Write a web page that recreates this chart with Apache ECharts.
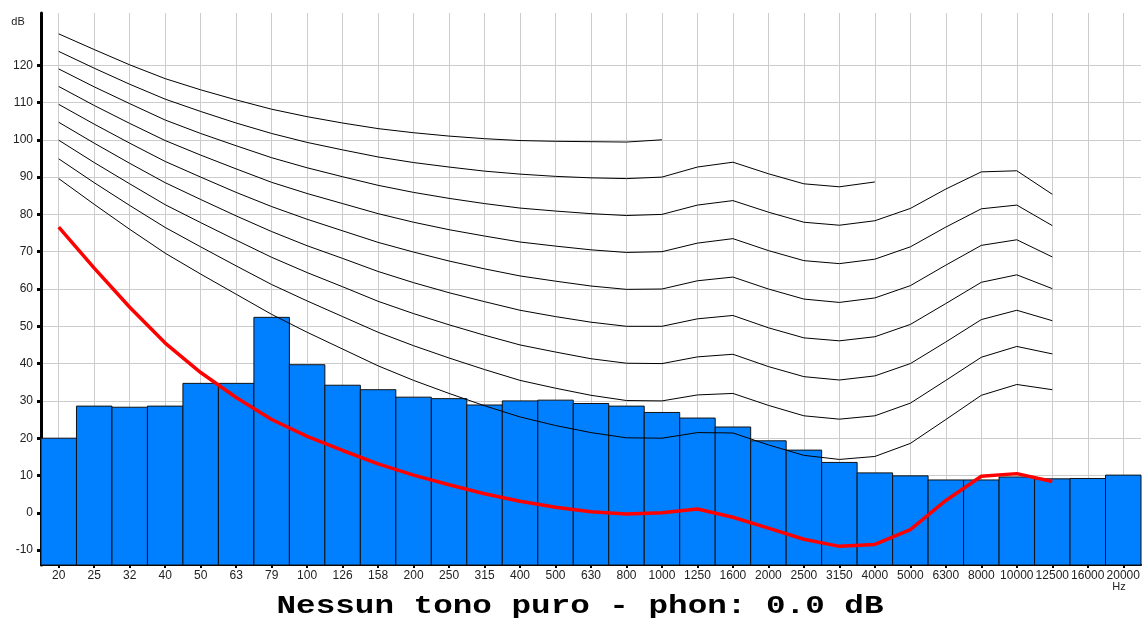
<!DOCTYPE html>
<html>
<head>
<meta charset="utf-8">
<script src="https://cdn.jsdelivr.net/npm/echarts@6/dist/echarts.min.js"></script>
<style>
html,body{margin:0;padding:0;background:#fff;}
#chart{width:1144px;height:619px;}
</style>
</head>
<body>
<div id="chart"></div>
<script>
// Frequency bands (Hz)
const freqLabels = ['20','25','32','40','50','63','79','100','126','158','200','250','315','400','500','630','800','1000','1250','1600','2000','2500','3150','4000','5000','6300','8000','10000','12500','16000','20000'];
// Measured band levels (dB)
const bandLevels = [20.0,28.6,28.3,28.6,34.7,34.7,52.4,39.7,34.2,33.0,31.0,30.6,28.9,30.0,30.2,29.3,28.6,26.9,25.4,23.0,19.3,16.8,13.5,10.7,9.9,8.8,8.8,9.6,9.1,9.2,10.1];
// Equal-loudness contours (dB), read per band
const phon0   = [76.6,65.6,55.1,45.5,37.6,30.9,25.0,20.5,16.7,13.1,10.1,7.5,5.1,3.1,1.5,0.3,-0.3,0.0,1.0,-1.2,-4.1,-7.1,-9.0,-8.5,-4.5,3.3,9.8,10.5,8.4];
const phon20  = [89.6,82.7,76.0,69.6,64.0,58.6,53.2,48.4,43.9,39.4,35.5,32.0,28.7,25.7,23.4,21.5,20.1,20.0,21.5,21.4,18.2,15.4,14.3,15.1,18.6,25.0,31.5,34.4,33.0];
const phon30  = [94.9,88.5,82.4,76.5,71.3,66.2,61.2,56.8,52.6,48.4,44.8,41.5,38.4,35.5,33.4,31.5,30.1,30.0,31.6,32.0,28.8,26.0,25.1,26.0,29.4,35.5,41.7,44.6,42.6];
const phon40  = [99.9,93.9,88.2,82.6,77.8,73.1,68.5,64.4,60.6,56.7,53.4,50.4,47.6,45.0,43.1,41.3,40.1,40.0,41.8,42.5,39.2,36.5,35.6,36.7,40.0,45.8,51.8,54.3,51.5];
const phon50  = [104.7,99.1,93.7,88.5,84.0,79.6,75.4,71.6,68.2,64.7,61.7,59.0,56.6,54.3,52.6,51.1,50.0,50.0,52.0,52.9,49.6,46.9,46.1,47.2,50.5,56.1,61.8,63.8,60.1];
const phon60  = [109.5,104.2,99.1,94.2,90.0,85.9,82.1,78.7,75.6,72.5,69.9,67.5,65.4,63.5,62.1,60.8,59.9,60.0,62.2,63.2,60.0,57.3,56.4,57.6,60.9,66.4,71.7,73.2,68.6];
const phon70  = [114.3,109.2,104.4,99.8,95.9,92.2,88.6,85.6,82.9,80.2,77.9,75.9,74.2,72.6,71.5,70.5,69.8,70.0,72.3,73.5,70.3,67.6,66.8,68.0,71.3,76.6,81.5,82.5,77.0];
const phon80  = [119.0,114.2,109.7,105.3,101.7,98.4,95.2,92.5,90.1,87.8,85.9,84.3,82.9,81.7,80.9,80.2,79.7,80.0,82.5,83.7,80.6,77.9,77.1,78.3,81.6,86.8,91.4,91.7,85.4];
const phon90  = [123.7,119.2,114.9,110.9,107.6,104.5,101.7,99.3,97.3,95.4,93.9,92.7,91.6,90.8,90.2,89.8,89.6,90.0,92.7,94.0,90.9,88.2,87.4,88.7];
const phon100 = [128.4,124.2,120.1,116.4,113.4,110.7,108.2,106.2,104.5,103.0,101.9,101.0,100.3,99.8,99.6,99.5,99.4,100.0];
// Y tick labels
const yTicks = [-10,0,10,20,30,40,50,60,70,80,90,100,110,120];
const titleText = 'Nessun tono puro - phon: 0.0 dB';

const Y_MIN = -14, Y_MAX = 134;

const chart = echarts.init(document.getElementById('chart'), null, {renderer: 'canvas'});

const blackContours = [phon20, phon30, phon40, phon50, phon60, phon70, phon80, phon90, phon100];
const contourSeries = blackContours.map((arr, k) => ({
  type: 'line',
  name: 'c' + k,
  data: arr,
  symbol: 'none',
  silent: true,
  z: 3,
  lineStyle: {color: '#000', width: 1},
  animation: false
}));

const option = {
  animation: false,
  grid: {left: 41, right: 3, top: 13, bottom: 54, containLabel: false},
  xAxis: {
    type: 'category',
    data: freqLabels,
    boundaryGap: true,
    axisLine: {show: true, onZero: false, lineStyle: {color: '#000', width: 2}},
    axisTick: {show: true, alignWithLabel: true, interval: 0, length: 3, lineStyle: {color: '#000', width: 2}},
    axisLabel: {interval: 0, fontSize: 12, color: '#222', margin: 5, fontFamily: 'Liberation Sans, Arial, sans-serif'},
    splitLine: {show: true, interval: 0, alignWithLabel: true, lineStyle: {color: '#cccccc', width: 1}}
  },
  yAxis: {
    type: 'value',
    min: Y_MIN,
    max: Y_MAX,
    axisLine: {show: true, onZero: false, lineStyle: {color: '#000', width: 3}},
    axisTick: {show: true, customValues: yTicks, length: 4, lineStyle: {color: '#000', width: 3}},
    axisLabel: {customValues: yTicks, fontSize: 12, color: '#222', margin: 8, fontFamily: 'Liberation Sans, Arial, sans-serif'},
    splitLine: {show: true, lineStyle: {color: '#cccccc', width: 1}}
  },
  graphic: [
    {type: 'text', x: 18, y: 22, style: {text: 'dB', font: '11px "Liberation Sans", Arial, sans-serif', fill: '#222', align: 'center', verticalAlign: 'middle'}},
    {type: 'text', x: 1119, y: 587, style: {text: 'Hz', font: '11px "Liberation Sans", Arial, sans-serif', fill: '#222', align: 'center', verticalAlign: 'middle'}},
    {type: 'text', x: 580, y: 606, scaleX: 1.255, style: {text: titleText, font: 'bold 26px "Liberation Mono", "Courier New", monospace', fill: '#000', align: 'center', verticalAlign: 'middle'}}
  ],
  series: [
    {
      type: 'custom',
      name: 'bands',
      z: 2,
      silent: true,
      data: bandLevels.map((v, i) => [i, v]),
      encode: {x: 0, y: 1},
      renderItem: function (params, api) {
        const top = api.coord([api.value(0), api.value(1)]);
        const base = api.coord([api.value(0), Y_MIN]);
        const w = api.size([1, 0])[0];
        return {
          type: 'rect',
          shape: {x: top[0] - w / 2, y: top[1], width: w, height: base[1] - top[1]},
          style: {fill: '#0080ff', stroke: '#111', lineWidth: 1}
        };
      }
    },
    ...contourSeries,
    {
      type: 'line',
      name: 'phon0',
      data: phon0,
      symbol: 'none',
      silent: true,
      z: 4,
      lineStyle: {color: '#ff0000', width: 3.5}
    }
  ]
};
chart.setOption(option);
</script>
</body>
</html>
